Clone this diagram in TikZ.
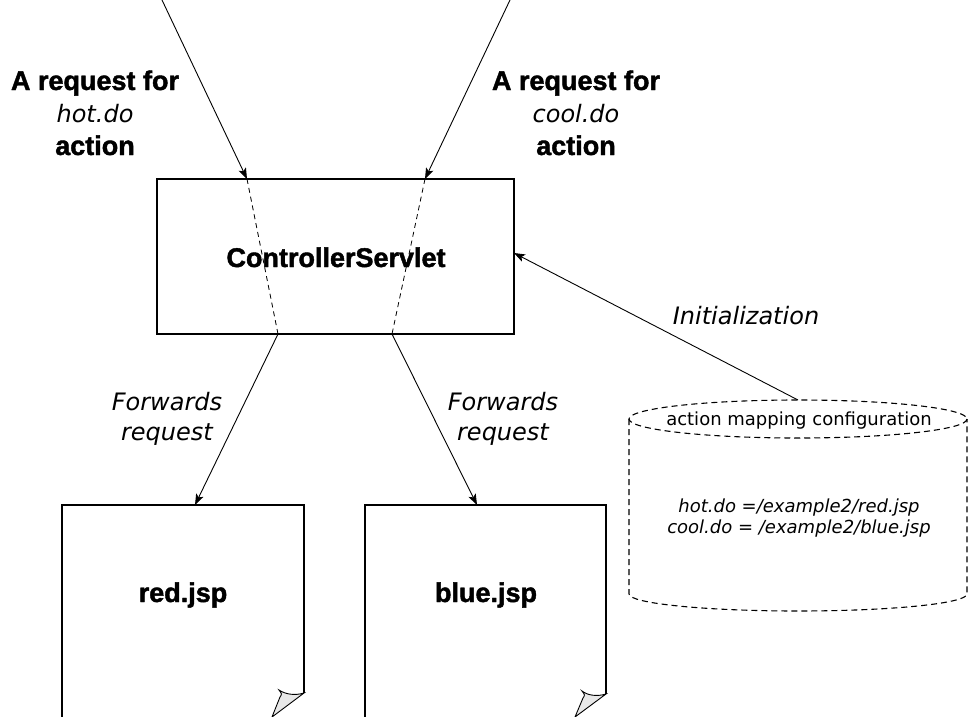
\documentclass[tikz,border=0pt]{standalone}
\usepackage{fontspec}
\setmainfont{DejaVu Sans}
\newfontfamily\hfont{Liberation Sans}[BoldFeatures={FakeBold=1.6}]
\usetikzlibrary{arrows.meta}
\tikzset{
  conn/.style={line width=0.9pt,-{Stealth[length=11pt,width=8pt,inset=2.5pt]}},
  innerdash/.style={line width=0.8pt,dash pattern=on 5pt off 4pt},
  boxline/.style={line width=1.1pt},
  lbl/.style={anchor=base,inner sep=0pt,align=center},
  boldlbl/.style={lbl,font=\hfont\bfseries\fontsize{27}{32.5}\selectfont},
  itallbl/.style={lbl,font=\itshape\fontsize{24}{30}\selectfont},
  cylline/.style={line width=1.1pt,dash pattern=on 6pt off 4pt},
  foldfill/.style={line width=0.9pt,fill=gray!18},
  pageline/.style={line width=1.1pt},
}
\begin{document}
\begin{tikzpicture}[x=1pt,y=-1pt]
\useasboundingbox (0,0) rectangle (969,717);

% controller box
\node[draw,boxline,minimum width=357pt,minimum height=155pt,inner sep=0pt] (ctrl) at (335.5,256.5) {};
\node[boldlbl] (ctrltext) at (336,267) {ControllerServlet};

% request labels (base = baseline of last line)
\node[boldlbl] (reqL) at (95,155) {A request for\\{\normalfont\itshape\fontsize{24}{32.5}\selectfont hot.do}\\action};
\node[boldlbl] (reqR) at (576,155) {A request for\\{\normalfont\itshape\fontsize{24}{32.5}\selectfont cool.do}\\action};

% coordinates
\coordinate (srcL) at (162,0);
\coordinate (srcR) at (510,0);
\coordinate (inL) at (247,179);
\coordinate (inR) at (425,179);
\coordinate (outL) at (278,334);
\coordinate (outR) at (392,334);
\coordinate (tgtL) at (195,505);
\coordinate (tgtR) at (477,505);
\coordinate (cyltop) at (798,400);
\coordinate (ctrlin) at (514,253);

\draw[conn] (srcL) -- (inL);
\draw[conn] (srcR) -- (inR);
\draw[innerdash] (inL) -- (outL);
\draw[innerdash] (inR) -- (outR);
\draw[conn] (outL) -- (tgtL);
\draw[conn] (outR) -- (tgtR);

% forwards labels
\node[itallbl] (fwdL) at (167,440) {Forwards\\request};
\node[itallbl] (fwdR) at (503,440) {Forwards\\request};

% pages
\node[inner sep=0pt,minimum width=242pt,minimum height=212pt] (redpage) at (183,611) {};
\draw[pageline] (62,717) -- (62,505) -- (304,505) -- (304,693);
\draw[foldfill] (304,693) .. controls (294,696) and (285,694) .. (279,690)
  .. controls (282,694) .. (280,697) -- (272,717) -- cycle;
\node[boldlbl] (redtext) at (183,602) {red.jsp};

\node[inner sep=0pt,minimum width=241pt,minimum height=212pt] (bluepage) at (485.5,611) {};
\draw[pageline] (365,717) -- (365,505) -- (606,505) -- (606,694);
\draw[foldfill] (606,694) .. controls (596,697) and (587,695) .. (582,691)
  .. controls (585,695) .. (583,698) -- (575,717) -- cycle;
\node[boldlbl] (bluetext) at (486,602) {blue.jsp};

% cylinder
\draw[cylline] (798,419) ellipse [x radius=169, y radius=19];
\draw[cylline] (629,419) -- (629,594) arc[start angle=180,end angle=0,x radius=169,y radius=17] -- (967,419);
\node[lbl,font=\fontsize{18}{21}\selectfont] (cyltitle) at (799,425) {action mapping configuration};
\node[lbl,font=\itshape\fontsize{18}{21}\selectfont] (maptext) at (799,533) {hot.do =/example2/red.jsp\\cool.do = /example2/blue.jsp};

% initialization
\draw[conn] (cyltop) -- (ctrlin);
\node[itallbl] (init) at (746,324) {Initialization};
\end{tikzpicture}
\end{document}
